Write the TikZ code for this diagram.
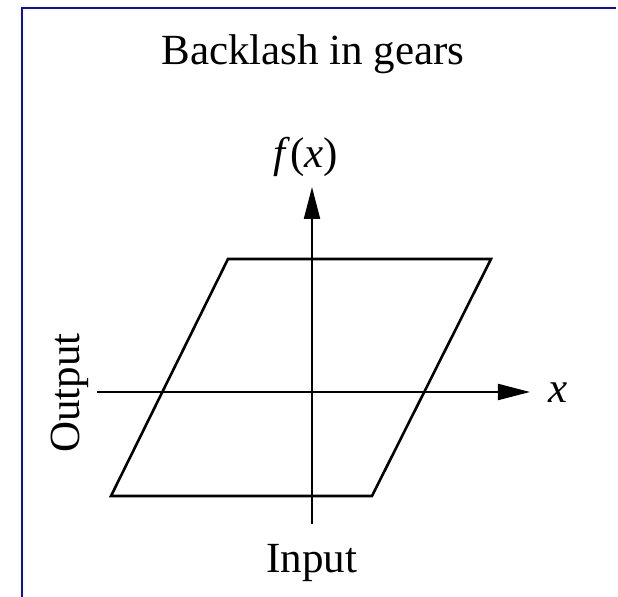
\documentclass[tikz,border=0pt]{standalone}
\usepackage{fontspec}
\setmainfont{Liberation Serif}
\usetikzlibrary{arrows.meta}
\definecolor{frameblue}{RGB}{10,10,215}
\begin{document}
\begin{tikzpicture}[x=0.5pt,y=-0.5pt,
  frame/.style={draw=frameblue,line width=1pt},
  axis/.style={draw=black,line width=1pt,-{Triangle[length=16pt,width=8pt]}},
  plainline/.style={draw=black,line width=1pt},
  curve/.style={draw=black,line width=1.3pt,line join=miter},
  lbl/.style={inner sep=0pt,font=\fontsize{21.5}{26}\selectfont}]
\useasboundingbox (0,0) rectangle (618,597);
% frame
\coordinate (fb) at (22,597);
\coordinate (fc) at (22,8);
\coordinate (fr) at (616,8);
\draw[frame] (fb) -- (fc) -- (fr);
% title
\node[lbl,anchor=base] (title) at (313,65) {Backlash in gears};
% parallelogram
\coordinate (pa) at (228,259);
\coordinate (pb) at (491,259);
\coordinate (pc) at (372,496);
\coordinate (pd) at (111,496);
\draw[curve] (pa) -- (pb) -- (pc) -- (pd) -- cycle;
% axes
\coordinate (xs) at (97,392);
\coordinate (xe) at (530,392);
\coordinate (ys) at (312,524);
\coordinate (ye) at (312,187);
\draw[axis] (xs) -- (xe);
\draw[axis] (ys) -- (ye);
% labels
\node[lbl,anchor=base] (fx) at (306,168) {\textit{f}(\textit{x})};
\node[lbl,anchor=base] (xl) at (558,403) {\textit{x}};
\node[lbl,anchor=base] (in) at (312,573) {Input};
\node[lbl,anchor=base,rotate=90] (out) at (79,393) {Output};
\end{tikzpicture}
\end{document}
